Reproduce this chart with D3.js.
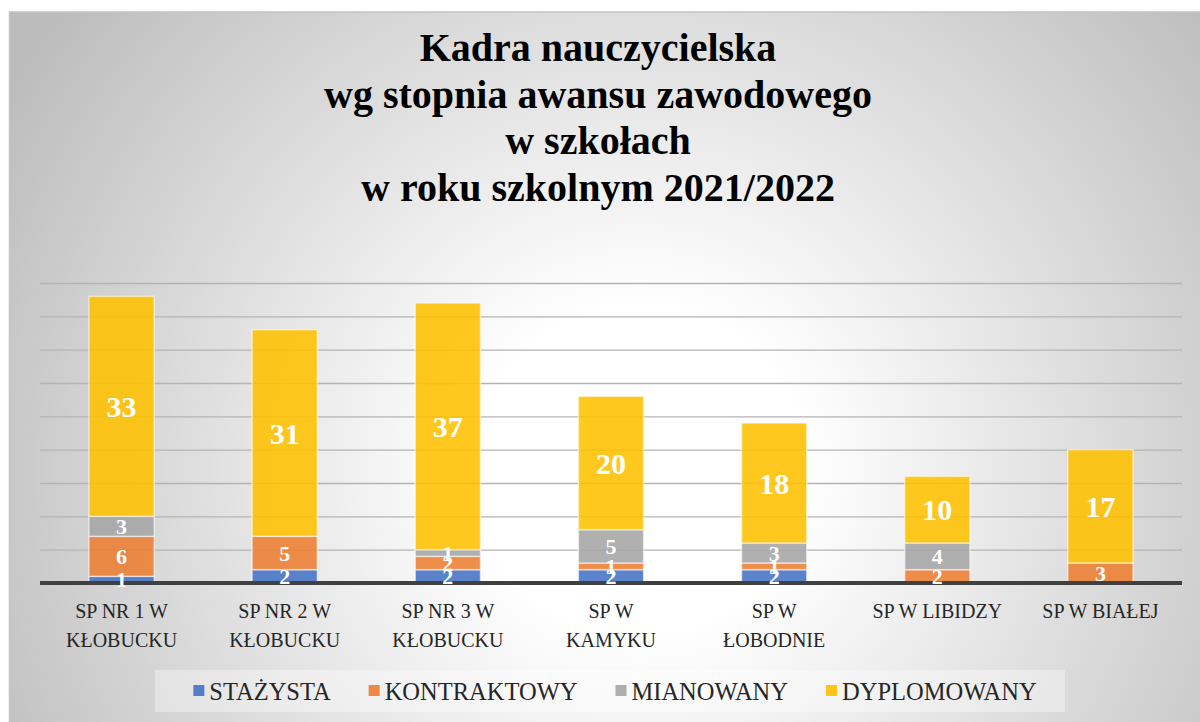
<!DOCTYPE html>
<html>
<head>
<meta charset="utf-8">
<script src="https://cdn.jsdelivr.net/npm/d3@7"></script>
<style>
  body { margin: 0; background: #fff; }
  svg { display: block; }
</style>
</head>
<body>
<div id="chart"></div>
<script>
// Data
const categories = [
  "SP NR 1 W KŁOBUCKU",
  "SP NR 2 W KŁOBUCKU",
  "SP NR 3 W KŁOBUCKU",
  "SP W KAMYKU",
  "SP W ŁOBODNIE",
  "SP W LIBIDZY",
  "SP W BIAŁEJ"
];
const seriesNames = ["STAŻYSTA", "KONTRAKTOWY", "MIANOWANY", "DYPLOMOWANY"];
const stazysta    = [1, 2, 2, 2, 2, 0, 0];
const kontraktowy = [6, 5, 2, 1, 1, 2, 3];
const mianowany   = [3, 0, 1, 5, 3, 4, 0];
const dyplomowany = [33, 31, 37, 20, 18, 10, 17];
const gridTicks = [5, 10, 15, 20, 25, 30, 35, 40, 45];
const titleLines = [
  "Kadra nauczycielska",
  "wg stopnia awansu zawodowego",
  "w szkołach",
  "w roku szkolnym 2021/2022"
];

const colors = ["#4472C4", "#ED7D31", "#A5A5A5", "#FFC000"];
const FONT = "Liberation Serif";

const width = 1200, height = 722;
const plot = { left: 40, right: 1182, top: 283, bottom: 583 };

const rows = categories.map((c, i) => ({
  cat: c,
  "STAŻYSTA": stazysta[i],
  "KONTRAKTOWY": kontraktowy[i],
  "MIANOWANY": mianowany[i],
  "DYPLOMOWANY": dyplomowany[i]
}));

const svg = d3.select("#chart").append("svg")
  .attr("width", width)
  .attr("height", height)
  .attr("font-family", FONT);

// background gradient like the office chart area
const defs = svg.append("defs");
const grad = defs.append("radialGradient")
  .attr("id", "bg")
  .attr("gradientUnits", "userSpaceOnUse")
  .attr("cx", 640).attr("cy", 470).attr("r", 740);
grad.append("stop").attr("offset", 0).attr("stop-color", "#ffffff");
grad.append("stop").attr("offset", 0.22).attr("stop-color", "#ffffff");
grad.append("stop").attr("offset", 1).attr("stop-color", "#bcbcbc");

svg.append("rect")
  .attr("x", 9.5).attr("y", 12)
  .attr("width", 1200).attr("height", 720)
  .attr("fill", "url(#bg)")
  .attr("stroke", "#c4c4c4")
  .attr("stroke-width", 1.5);

// title
const title = svg.append("text")
  .attr("font-family", FONT)
  .attr("text-anchor", "middle")
  .attr("font-weight", "bold")
  .attr("font-size", 40)
  .attr("fill", "#000");
titleLines.forEach((t, i) => {
  title.append("tspan").attr("x", 598).attr("y", 61 + i * 46.5).text(t);
});

const x = d3.scaleBand()
  .domain(categories)
  .range([plot.left, plot.right])
  .paddingInner(0.6)
  .paddingOuter(0.3);

const y = d3.scaleLinear()
  .domain([0, 45])
  .range([plot.bottom, plot.top]);

// gridlines
const grid = svg.append("g")
  .attr("transform", `translate(${plot.left},0)`)
  .call(d3.axisLeft(y).tickValues(gridTicks).tickSize(-(plot.right - plot.left)).tickFormat(""));
grid.select(".domain").remove();
grid.selectAll(".tick line")
  .attr("stroke", "#b4b4b4")
  .attr("stroke-width", 1.4);

// stacked bars
const stack = d3.stack().keys(seriesNames);
const stacked = stack(rows);

const layers = svg.append("g").selectAll("g")
  .data(stacked)
  .join("g")
  .attr("fill", (d, i) => colors[i]);

layers.selectAll("rect")
  .data(d => d)
  .join("rect")
  .attr("x", d => x(d.data.cat))
  .attr("width", x.bandwidth())
  .attr("y", d => y(d[1]))
  .attr("height", d => y(d[0]) - y(d[1]))
  .attr("fill-opacity", 0.88)
  .attr("stroke", "rgba(255,255,255,0.55)")
  .attr("stroke-width", 1.5);

// baseline
svg.append("line")
  .attr("x1", plot.left).attr("x2", plot.right)
  .attr("y1", y(0)).attr("y2", y(0))
  .attr("stroke", "#404040")
  .attr("stroke-width", 4);

// data labels
stacked.forEach((layer, si) => {
  const big = si === 3;
  svg.append("g").selectAll("text")
    .data(layer.filter(d => d[1] - d[0] > 0))
    .join("text")
    .attr("font-family", FONT)
    .attr("x", d => x(d.data.cat) + x.bandwidth() / 2)
    .attr("y", d => (y(d[0]) + y(d[1])) / 2)
    .attr("dy", "0.35em")
    .attr("text-anchor", "middle")
    .attr("font-weight", "bold")
    .attr("font-size", big ? 30 : 22)
    .attr("fill", "#fff")
    .text(d => d[1] - d[0]);
});

// category axis labels (wrapped like the original)
const xAxis = svg.append("g")
  .attr("transform", `translate(0,${plot.bottom})`)
  .call(d3.axisBottom(x).tickSize(0).tickPadding(0));
xAxis.attr("font-family", FONT);
xAxis.select(".domain").remove();
xAxis.selectAll(".tick text")
  .attr("font-family", FONT)
  .attr("font-size", 20)
  .attr("fill", "#262626")
  .attr("y", 35)
  .attr("dy", 0)
  .each(function (d) {
    const t = d3.select(this);
    const words = d.split(" ");
    t.text(null);
    let line = [];
    let lineNo = 0;
    let tspan = t.append("tspan").attr("x", 0).attr("y", 35);
    words.forEach(w => {
      line.push(w);
      tspan.text(line.join(" "));
      if (tspan.node().getComputedTextLength() > 135 && line.length > 1) {
        line.pop();
        tspan.text(line.join(" "));
        line = [w];
        lineNo++;
        tspan = t.append("tspan").attr("x", 0).attr("y", 35 + lineNo * 29).text(w);
      }
    });
  });

// legend
const legend = svg.append("g");
legend.append("rect")
  .attr("x", 155).attr("y", 670)
  .attr("width", 910).attr("height", 42)
  .attr("fill", "#ffffff")
  .attr("fill-opacity", 0.35);

const items = legend.selectAll("g.item")
  .data(seriesNames)
  .join("g")
  .attr("class", "item");
items.append("rect")
  .attr("width", 11).attr("height", 11)
  .attr("y", 685)
  .attr("fill", (d, i) => colors[i])
  .attr("fill-opacity", 0.9);
items.append("text")
  .attr("font-family", FONT)
  .attr("x", 16)
  .attr("y", 699.5)
  .attr("font-size", 24.5)
  .attr("fill", "#262626")
  .text(d => d);

let widths = [];
items.each(function () {
  widths.push(16 + d3.select(this).select("text").node().getComputedTextLength());
});
const gap = 38;
const total = d3.sum(widths) + gap * (widths.length - 1);
let cx = 615 - total / 2;
items.each(function (d, i) {
  d3.select(this).attr("transform", `translate(${cx},0)`);
  cx += widths[i] + gap;
});
</script>
</body>
</html>
